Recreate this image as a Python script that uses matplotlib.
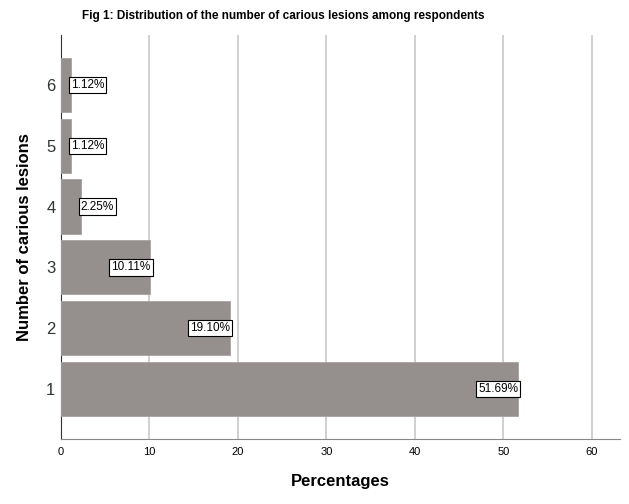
import matplotlib
matplotlib.use("Agg")
import matplotlib.pyplot as plt

categories = [1, 2, 3, 4, 5, 6]
percentages = [51.69, 19.10, 10.11, 2.25, 1.12, 1.12]
labels = ["51.69%", "19.10%", "10.11%", "2.25%", "1.12%", "1.12%"]
xticks = [0, 10, 20, 30, 40, 50, 60]

plt.rcParams['font.family'] = ['Liberation Sans', 'DejaVu Sans']

fig = plt.figure(figsize=(6.29, 5.04), dpi=100)
ax = fig.add_axes([0.097, 0.129, 0.8887, 0.8016])

ax.barh(categories, percentages, height=0.89, color='#958f8e',
        edgecolor='#a8a3a2', linewidth=0.6, zorder=3)

for c, v, t in zip(categories, percentages, labels):
    ha = 'left' if v < 5 else 'right'
    ax.text(v, c, t, ha=ha, va='center', fontsize=8.5, zorder=5,
            bbox=dict(boxstyle='square,pad=0.18', fc='white', ec='black', lw=0.8))

ax.set_xlim(0, 63.2)
ax.set_ylim(0.18, 6.82)
ax.set_xticks(xticks)
ax.set_yticks(categories)
ax.tick_params(axis='x', labelsize=8, length=0, pad=6)
ax.tick_params(axis='y', labelsize=12, length=0, pad=4, labelcolor='#333333')
ax.xaxis.grid(True, color='#c8c8c8', linewidth=1.2, zorder=0)
ax.set_axisbelow(True)
for s in ['top', 'right']:
    ax.spines[s].set_visible(False)
ax.spines['left'].set_color('#333333')
ax.spines['bottom'].set_color('#888888')

ax.set_xlabel('Percentages', fontsize=12, fontweight='bold', labelpad=12)
ax.set_ylabel('Number of carious lesions', fontsize=12, fontweight='bold', labelpad=10)
fig.text(0.45, 0.968, 'Fig 1: Distribution of the number of carious lesions among respondents',
         ha='center', va='center', fontsize=8.5, fontweight='bold')

fig.savefig('out.png', dpi=100)
